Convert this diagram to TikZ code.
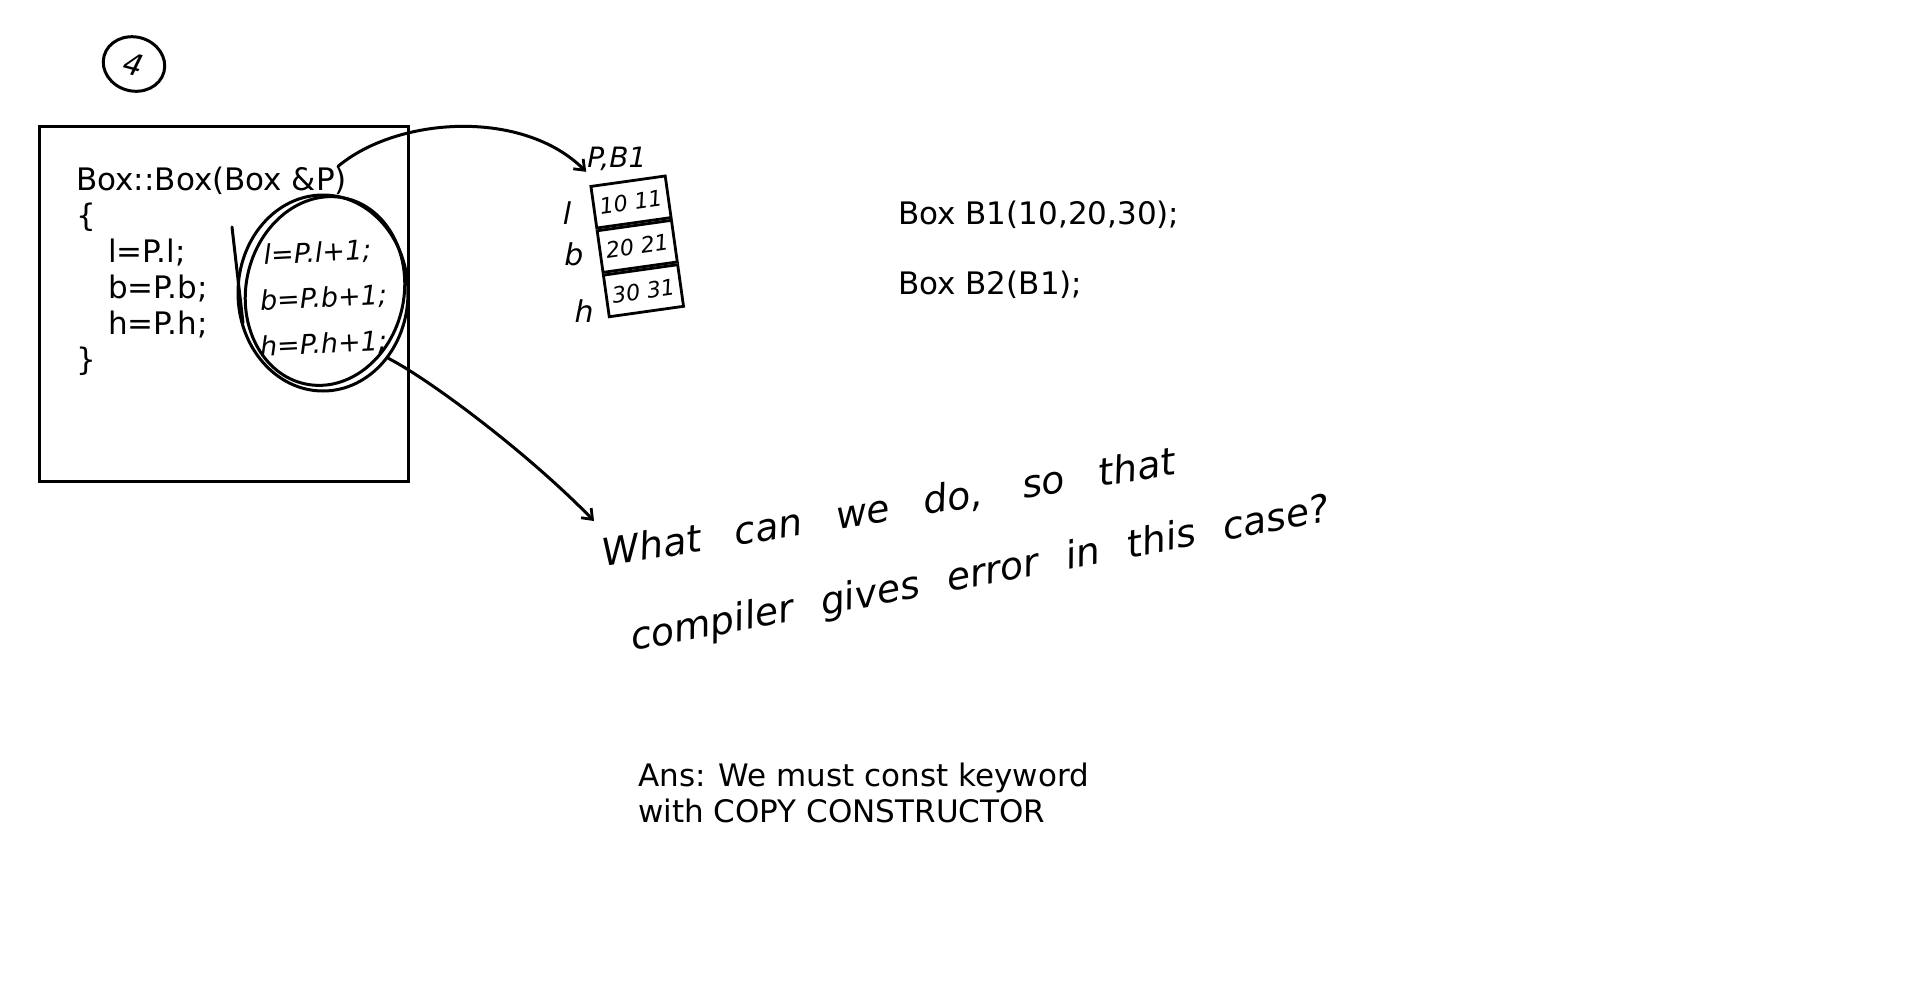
\documentclass[tikz,border=0pt]{standalone}
\usepackage{fontspec}
\setmainfont{DejaVu Sans}
\usetikzlibrary{arrows.meta, shapes.geometric, positioning}
\tikzset{
  code/.style={anchor=base west, inner sep=0pt, font=\fontsize{31pt}{36pt}\selectfont},
  hand/.style={line width=3pt, line cap=round, line join=round},
  handtext/.style={font=\fontsize{30pt}{34pt}\selectfont\itshape, inner sep=1pt},
  edit/.style={anchor=base, rotate=3, inner sep=0pt, font=\fontsize{27pt}{32pt}\selectfont\itshape},
  question/.style={anchor=base west, inner sep=0pt, font=\fontsize{38pt}{44pt}\selectfont\itshape},
  cell/.style={rectangle, draw, line width=2.8pt, minimum width=75pt, minimum height=42pt,
    rotate=8, inner sep=0pt, font=\fontsize{22pt}{26pt}\selectfont\itshape},
  handarrow/.style={hand, -{Straight Barb[length=9pt, width=14pt, line width=2.8pt]}},
  ring/.style={ellipse, draw, line width=3pt, inner sep=0pt}
}

\begin{document}
\begin{tikzpicture}[x=1pt, y=-1pt]
\path[use as bounding box, fill=white] (0,0) rectangle (1920,991);

% Question number
\node[ellipse, draw, line width=3pt, minimum width=62pt, minimum height=54pt,
      rotate=-15, handtext] (qnum) at (134,64) {4};

% Copy constructor
\node[rectangle, draw, line width=3pt, minimum width=369pt, minimum height=355pt] (frame) at (223.5,303.5) {};
\node[code] (sig) at (76,190) {Box::Box(Box \&P)};
\node[code] (obr) at ([yshift=-36pt]sig.base west) {\{};
\node[code, xshift=32pt] (ln1) at ([yshift=-36pt]obr.base west) {l=P.l;};
\node[code] (ln2) at ([yshift=-36pt]ln1.base west) {b=P.b;};
\node[code] (ln3) at ([yshift=-36pt]ln2.base west) {h=P.h;};
\node[code] (cbr) at ([yshift=-144pt]obr.base west) {\}};

% Handwritten edits
\node[edit] (ed1) at (318,262) {l=P.l+1;};
\node[edit] (ed2) at (324,307) {b=P.b+1;};
\node[edit] (ed3) at (324,353) {h=P.h+1;};
\node[ring, minimum width=170pt, minimum height=196pt] (ring) at (323,293) {};
\node[ring, minimum width=158pt, minimum height=190pt, rotate=-12] (ring2) at (325,291) {};
\draw[hand] (232,227) -- (243,323);

% Object in memory
\node[cell] (cl) at (631,202) {10 11};
\node[cell, anchor=north] (cb) at (cl.south) {20 21};
\node[cell, anchor=north] (ch) at (cb.south) {30 31};
\node[handtext, left=20pt of cl, yshift=-6pt] (labl) {l};
\node[handtext, left=14pt of cb, yshift=-3pt] (labb) {b};
\node[handtext, left=10pt of ch, yshift=-15pt] (labh) {h};
\node[handtext, font=\fontsize{28pt}{32pt}\selectfont\itshape, above=8pt of cl, xshift=-11pt] (ptr) {P,B1};

\draw[handarrow] ([xshift=-9pt]sig.north east) .. controls +(60,-50) and +(-63,-63) .. (ptr.south west);

% Declarations
\node[code] (decl1) at (898,224) {Box B1(10,20,30);};
\node[code] (decl2) at ([yshift=-70pt]decl1.base west) {Box B2(B1);};

% Question
\node[question, rotate=9.2] (q1) at (604,567) {\makebox[580pt][s]{What can we do, so that}};
\node[question, rotate=10.6] (q2) at (633,651) {\makebox[710pt][s]{compiler gives error in this case?}};
\coordinate (qtip) at (594,521);
\draw[handarrow] (ring.-45) .. controls +(41,21) and +(-66,-68) .. (qtip);

% Answer
\node[code] (ans1) at (638,786) {Ans: We must const keyword};
\node[code] (ans2) at ([yshift=-36pt]ans1.base west) {with COPY CONSTRUCTOR};

\end{tikzpicture}
\end{document}
